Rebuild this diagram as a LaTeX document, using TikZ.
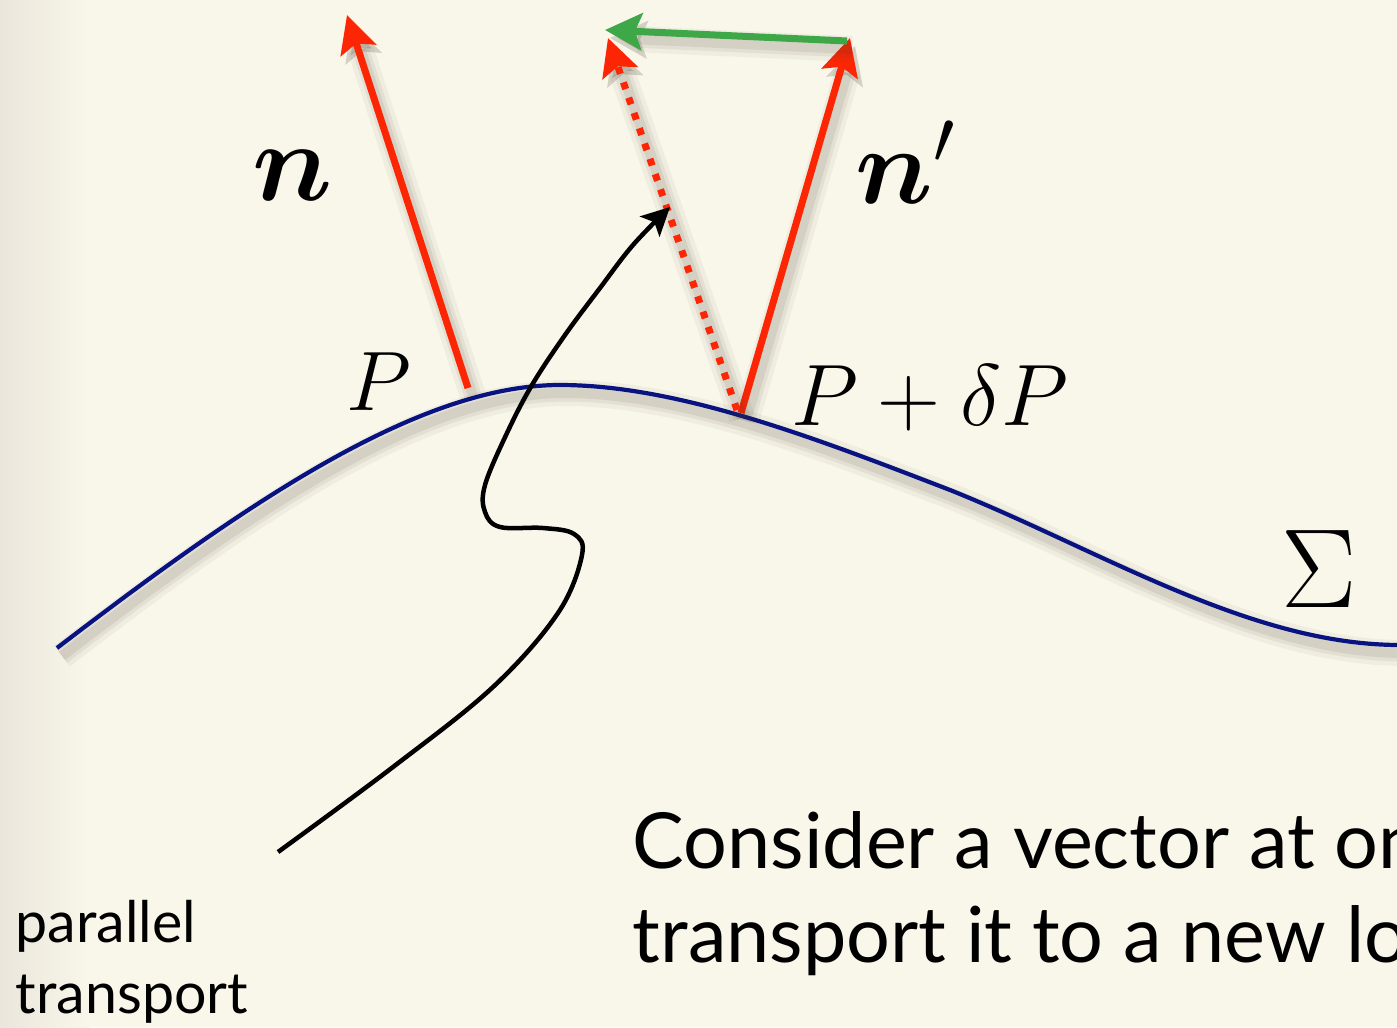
\RequirePackage{fix-cm}
\documentclass[tikz,border=0pt]{standalone}
\usepackage{fontspec}
\setmainfont{Lato}
\usepackage{bm}
\usetikzlibrary{arrows.meta}
\definecolor{bg}{RGB}{249,246,234}
\definecolor{bgdark}{RGB}{234,230,219}
\definecolor{vred}{RGB}{252,38,4}
\definecolor{vgreen}{RGB}{62,168,72}
\definecolor{snavy}{RGB}{8,18,128}
\definecolor{shadc}{RGB}{70,62,45}
\begin{document}
\begin{tikzpicture}[x=0.01cm,y=-0.01cm,
  shd/.style={preaction={draw=shadc, solid, opacity=0.05, line width=0.26cm, transform canvas={shift={(5,8)}}},
              preaction={draw=shadc, solid, opacity=0.07, line width=0.17cm, transform canvas={shift={(5,8)}}},
              preaction={draw=shadc, solid, opacity=0.09, line width=0.10cm, transform canvas={shift={(5,8)}}}},
  redvec/.style={shd, draw=vred, line width=0.07cm, -{Stealth[length=10.5pt,width=10.5pt,inset=2pt]}},
  dotvec/.style={shd, draw=vred, line width=0.07cm, dash pattern=on 2pt off 2.6pt, -{Stealth[length=10.5pt,width=10.5pt,inset=2pt]}},
  greenvec/.style={shd, draw=vgreen, line width=0.07cm, -{Stealth[length=10.5pt,width=10.5pt,inset=2pt]}},
  surf/.style={shd, draw=snavy, line width=0.042cm},
  pointer/.style={draw=black, line width=0.045cm, -{Stealth[length=8pt,width=8pt,inset=1.8pt]}},
  mlab/.style={inner sep=0pt, anchor=base west},
  txt/.style={inner sep=0pt, anchor=base west, font=\fontsize{22}{26}\selectfont},
  small/.style={inner sep=0pt, anchor=base west, font=\fontsize{16.3}{20}\selectfont}]
\useasboundingbox (0,0) rectangle (1397,1027);
\clip (0,0) rectangle (1397,1027);
\fill[bg] (0,0) rectangle (1397,1027);
\shade[left color=bgdark, right color=bg] (0,0) rectangle (90,1027);

% points
\coordinate (S0) at (57,648);
\coordinate (Speak) at (560,385);
\coordinate (S2) at (950,490);
\coordinate (S3) at (1400,645);
\coordinate (P) at (468,388);
\coordinate (ntip) at (347,15);
\coordinate (Q) at (741,413);
\coordinate (nptip) at (850,38);
\coordinate (Qd) at (737,410);
\coordinate (dtip) at (608,38);
\coordinate (gstart) at (847,41);
\coordinate (gtip) at (605,30);
\coordinate (ptstart) at (278,852);

% surface
\draw[surf] (S0) .. controls (250,500) and (420,385) .. (Speak)
  .. controls (680,385) and (820,440) .. (S2)
  .. controls (1100,550) and (1250,645) .. (S3);

\draw[redvec] (P) -- (ntip);
\draw[redvec] (Q) -- (nptip);
\draw[dotvec] (Qd) -- (dtip);
\draw[greenvec] (gstart) -- (gtip);

% parallel transport pointer
\draw[pointer] plot[smooth, tension=0.6] coordinates {(ptstart) (393,767) (493,687) (558,613) (582,555) (574,534) (543,528) (500,527) (485,512) (485,485) (507,433) (532,385) (565,335) (600,288) (633,245) (670,207)};

% labels
\node[mlab, font=\fontsize{32}{38}\selectfont] (nlab) at (252,200) {$\bm{n}$};
\node[mlab, font=\fontsize{31}{38}\selectfont] (nplab) at (855,203) {$\bm{n}'$};
\node[mlab, font=\fontsize{24}{28}\selectfont] (Plab) at (346,410) {$P$};
\node[mlab, font=\fontsize{24.8}{28}\selectfont] (PdPlab) at (791,425) {$P+\delta P$};
\node[mlab, font=\fontsize{32}{38}\selectfont] (Sig) at (1281,607) {$\Sigma$};

\node[small] (par1) at (15,942) {parallel};
\node[small] (par2) at (15,1013) {transport};
\node[txt] (cons1) at (632,868) {Consider a vector at one};
\node[txt] (cons2) at (632,962) {transport it to a new location};
\end{tikzpicture}
\end{document}
